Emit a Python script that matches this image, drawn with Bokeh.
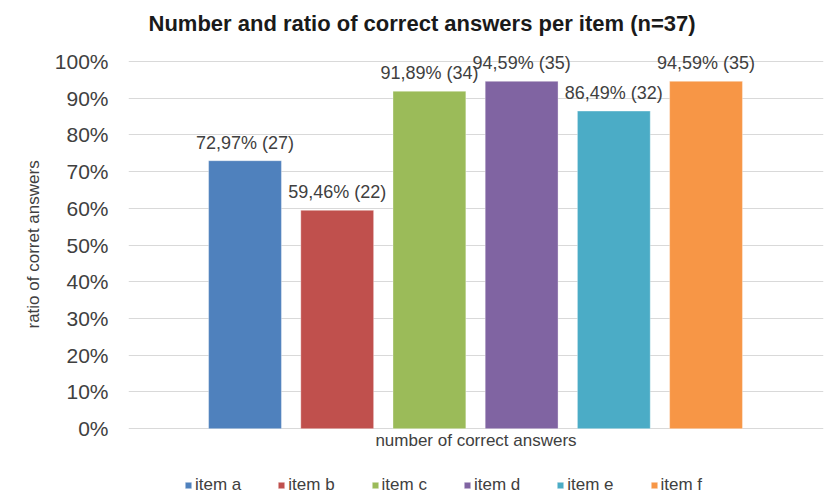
from bokeh.plotting import figure
from bokeh.models import (ColumnDataSource, Range1d, FixedTicker, NumeralTickFormatter,
                          Legend, LegendItem, Title)
from bokeh.core.properties import value
from bokeh.embed import file_html
from bokeh.resources import INLINE

items = ["item a", "item b", "item c", "item d", "item e", "item f"]
ratios = [0.7297, 0.5946, 0.9189, 0.9459, 0.8649, 0.9459]
counts = [27, 22, 34, 35, 32, 35]
colors = ["#4F81BD", "#C0504D", "#9BBB59", "#8064A2", "#4BACC6", "#F79646"]
y_ticks = [0.0, 0.1, 0.2, 0.3, 0.4, 0.5, 0.6, 0.7, 0.8, 0.9, 1.0]
title_text = "Number and ratio of correct answers per item (n=37)"
x_label = "number of correct answers"
y_label = "ratio of corret answers"

FONT = "Liberation Sans"
TXT = "#404040"

labels = [("%.2f%%" % (r * 100)).replace(".", ",") + " (%d)" % c for r, c in zip(ratios, counts)]
xs = list(range(len(items)))

src = ColumnDataSource(dict(x=xs, y=ratios, label=labels))

x0, x1 = -1.2636, 6.274
p = figure(width=832, height=497, output_backend="svg", toolbar_location=None,
           x_range=Range1d(x0, x1), y_range=Range1d(-0.1875, 1.0489),
           min_border_left=128, min_border_right=9, min_border_top=42, min_border_bottom=0)

p.title.text = title_text
p.title.text_font = FONT
p.title.text_font_size = "22px"
p.title.text_font_style = "bold"
p.title.text_color = "#1a1a1a"
p.title.align = "left"
p.title.offset = 20
p.title.standoff = 16

p.outline_line_color = None
p.background_fill_color = "white"
p.border_fill_color = "white"

# bars
renderers = []
for i in range(len(items)):
    r = p.vbar(x=[xs[i]], top=[ratios[i]], width=0.79, bottom=0,
               fill_color=colors[i], line_color="white", line_alpha=0.35, line_width=1)
    renderers.append(r)

# data labels
p.text(x="x", y="y", text="label", source=src, text_align="center", text_baseline="alphabetic",
       y_offset=-18, text_font=value(FONT), text_font_size="18px", text_color=TXT)

# category axis label under the bars
p.text(x=[(x0 + x1) / 2], y=[0], text=[x_label], text_align="center", text_baseline="middle",
       y_offset=12, text_font=value(FONT), text_font_size="17px", text_color=TXT)

# y axis
p.yaxis.ticker = FixedTicker(ticks=y_ticks)
p.yaxis.formatter = NumeralTickFormatter(format="0%")
p.yaxis.major_label_text_font = FONT
p.yaxis.major_label_text_font_size = "21px"
p.yaxis.major_label_text_color = TXT
p.yaxis.major_label_standoff = 20
p.yaxis.major_tick_out = 0
p.yaxis.major_tick_in = 0
p.yaxis.minor_tick_out = 0
p.yaxis.minor_tick_in = 0
p.yaxis.major_tick_line_color = None
p.yaxis.minor_tick_line_color = None
p.yaxis.axis_line_color = None

ytitle = Title(text=y_label, align="left", offset=169, standoff=18,
               text_font=FONT, text_font_size="17px", text_font_style="normal", text_color=TXT)
p.add_layout(ytitle, "left")

p.ygrid.ticker = FixedTicker(ticks=y_ticks)
p.ygrid.grid_line_color = "#D9D9D9"
p.ygrid.grid_line_width = 1
p.xgrid.grid_line_color = None
p.xaxis.visible = False

legend = Legend(items=[LegendItem(label=items[i], renderers=[renderers[i]]) for i in range(len(items))],
                orientation="horizontal", location=(56, 2),
                glyph_width=8, glyph_height=8, label_standoff=3, spacing=36,
                padding=0, margin=0, border_line_color=None, background_fill_alpha=0,
                label_text_font=FONT, label_text_font_size="17px", label_text_color=TXT)
p.add_layout(legend)

open("out.html", "w").write(file_html(p, INLINE))
